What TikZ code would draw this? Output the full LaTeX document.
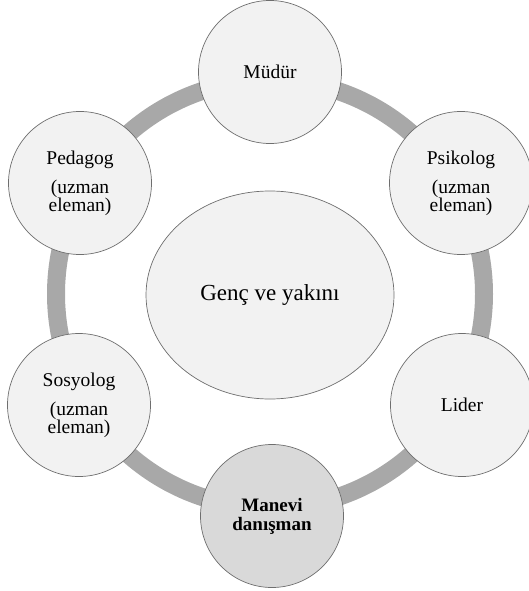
\documentclass[tikz,border=0pt]{standalone}
\usepackage{fontspec}
\setmainfont{Liberation Serif}
\usetikzlibrary{shapes.geometric}
\definecolor{cfill}{HTML}{F2F2F2}
\definecolor{cdark}{HTML}{D9D9D9}
\definecolor{cring}{HTML}{A8A8A8}
\definecolor{cedge}{HTML}{6E6E6E}
\tikzset{
  role/.style={circle, draw=cedge, line width=0.7pt, fill=cfill, minimum size=143pt, inner sep=0pt, align=center, font=\fontsize{19.5}{18}\selectfont},
  rolebold/.style={role, fill=cdark, font=\fontsize{19}{19}\selectfont\bfseries},
  core/.style={ellipse, draw=cedge, line width=0.7pt, fill=cfill, minimum width=248pt, minimum height=208pt, inner sep=0pt, font=\fontsize{23}{26}\selectfont},
  ring/.style={draw=cring, line width=18pt}
}
\begin{document}
\begin{tikzpicture}[x=1pt,y=-1pt]
\useasboundingbox (0,0) rectangle (528,591);
\coordinate (hub) at (270,294);
\draw[ring] (hub) circle[radius=214pt];
\node[core] (genc) at (270,295) {Genç ve yakını};
\node[role] (mudur) at (270,72) {Müdür};
\node[role] (psikolog) at (461,183) {Psikolog\\[11pt](uzman\\eleman)};
\node[role] (lider) at (462,405) {Lider};
\node[rolebold] (manevi) at (272,516) {Manevi\\danışman};
\node[role] (sosyolog) at (79,405) {Sosyolog\\[11pt](uzman\\eleman)};
\node[role] (pedagog) at (80,183) {Pedagog\\[11pt](uzman\\eleman)};
\end{tikzpicture}
\end{document}
